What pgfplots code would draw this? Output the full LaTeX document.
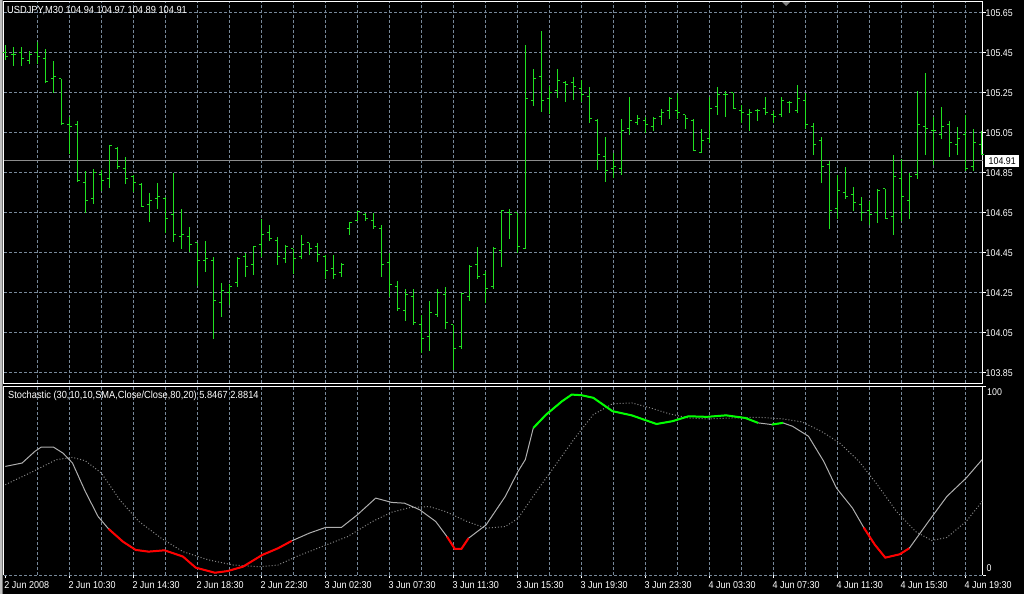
\documentclass[border=0pt]{standalone}
\usepackage{fontspec}
\setmainfont{Liberation Sans}[FakeStretch=0.9]
\usepackage{pgfplots}
\usepackage{pgfplotstable}
\pgfplotsset{compat=1.18}

\definecolor{gridc}{RGB}{119,136,153}
\definecolor{barc}{RGB}{32,224,32}
\definecolor{kc}{RGB}{175,175,175}
\definecolor{dc}{RGB}{135,135,135}
\definecolor{pricec}{RGB}{140,140,140}

% open / close ticks of the OHLC bars
\pgfdeclareplotmark{otick}{\pgfpathmoveto{\pgfqpoint{-2.5pt}{0pt}}\pgfpathlineto{\pgfqpoint{0pt}{0pt}}\pgfusepathqstroke}
\pgfdeclareplotmark{ctick}{\pgfpathmoveto{\pgfqpoint{0pt}{0pt}}\pgfpathlineto{\pgfqpoint{2.5pt}{0pt}}\pgfusepathqstroke}

\pgfplotstableread{
i o h l c
0 105.45 105.49 105.415 105.43
1 105.44 105.48 105.385 105.44
2 105.45 105.48 105.385 105.42
3 105.41 105.46 105.395 105.44
4 105.45 105.505 105.395 105.43
5 105.42 105.47 105.30 105.305
6 105.32 105.41 105.25 105.33
7 105.32 105.32 105.09 105.095
8 105.09 105.13 104.945 105.08
9 105.09 105.11 104.805 104.81
10 104.80 104.86 104.65 104.71
11 104.72 104.87 104.695 104.85
12 104.84 104.865 104.76 104.81
13 104.82 104.99 104.775 104.985
14 104.97 104.98 104.87 104.88
15 104.87 104.93 104.795 104.82
16 104.83 104.84 104.755 104.80
17 104.79 104.80 104.68 104.68
18 104.69 104.75 104.605 104.71
19 104.72 104.80 104.67 104.73
20 104.72 104.73 104.55 104.62
21 104.64 104.85 104.505 104.54
22 104.53 104.67 104.47 104.54
23 104.53 104.58 104.455 104.49
24 104.50 104.50 104.285 104.41
25 104.41 104.51 104.355 104.42
26 104.41 104.43 104.02 104.21
27 104.20 104.30 104.13 104.26
28 104.25 104.295 104.19 104.28
29 104.30 104.43 104.28 104.42
30 104.43 104.45 104.33 104.38
31 104.39 104.48 104.34 104.48
32 104.49 104.62 104.43 104.54
33 104.55 104.59 104.51 104.52
34 104.51 104.53 104.39 104.43
35 104.42 104.49 104.40 104.48
36 104.47 104.47 104.345 104.42
37 104.43 104.54 104.42 104.49
38 104.50 104.50 104.44 104.47
39 104.48 104.50 104.405 104.44
40 104.43 104.44 104.32 104.36
41 104.37 104.44 104.32 104.34
42 104.35 104.40 104.33 104.39
43 104.57 104.60 104.54 104.60
44 104.61 104.66 104.61 104.655
45 104.64 104.65 104.61 104.62
46 104.61 104.65 104.57 104.58
47 104.57 104.59 104.33 104.39
48 104.40 104.45 104.23 104.29
49 104.28 104.31 104.16 104.17
50 104.16 104.27 104.11 104.24
51 104.23 104.27 104.09 104.10
52 104.09 104.14 103.95 104.02
53 104.03 104.21 103.96 104.15
54 104.14 104.27 104.13 104.25
55 104.24 104.28 104.07 104.10
56 104.09 104.09 103.865 103.97
57 103.98 104.25 103.97 104.245
58 104.23 104.39 104.21 104.38
59 104.39 104.48 104.32 104.33
60 104.34 104.36 104.20 104.27
61 104.28 104.48 104.27 104.47
62 104.46 104.66 104.38 104.66
63 104.65 104.67 104.52 104.64
64 104.65 104.65 104.45 104.48
65 104.47 105.49 104.47 105.22
66 105.21 105.37 105.185 105.32
67 105.33 105.56 105.155 105.21
68 105.22 105.285 105.145 105.25
69 105.26 105.37 105.225 105.31
70 105.30 105.31 105.205 105.29
71 105.30 105.33 105.215 105.28
72 105.27 105.315 105.205 105.24
73 105.23 105.28 105.10 105.12
74 105.11 105.12 104.865 104.94
75 104.93 105.03 104.805 104.86
76 104.87 104.95 104.825 104.88
77 104.87 105.12 104.84 105.06
78 105.07 105.23 105.04 105.11
79 105.10 105.14 105.09 105.12
80 105.11 105.13 105.05 105.09
81 105.08 105.13 105.06 105.12
82 105.13 105.17 105.09 105.15
83 105.16 105.23 105.12 105.22
84 105.16 105.25 105.12 105.15
85 105.14 105.14 105.07 105.12
86 105.11 105.12 104.96 104.96
87 104.95 105.07 104.95 105.01
88 105.02 105.23 105.00 105.17
89 105.18 105.28 105.14 105.24
90 105.24 105.26 105.13 105.24
91 105.25 105.25 105.17 105.17
92 105.16 105.19 105.10 105.15
93 105.14 105.17 105.06 105.15
94 105.16 105.17 105.11 105.16
95 105.17 105.23 105.14 105.15
96 105.14 105.16 105.10 105.13
97 105.14 105.23 105.13 105.21
98 105.20 105.21 105.15 105.20
99 105.16 105.29 105.15 105.22
100 105.21 105.25 105.07 105.09
101 105.08 105.10 104.94 104.99
102 105.01 105.03 104.80 104.88
103 104.89 104.91 104.57 104.66
104 104.67 104.84 104.62 104.76
105 104.75 104.88 104.72 104.73
106 104.74 104.78 104.66 104.70
107 104.69 104.73 104.61 104.65
108 104.66 104.71 104.59 104.64
109 104.65 104.77 104.60 104.76
110 104.77 104.77 104.62 104.62
111 104.63 104.94 104.54 104.83
112 104.82 104.92 104.61 104.73
113 104.71 104.85 104.62 104.83
114 104.84 105.26 104.82 105.09
115 105.08 105.35 104.94 105.07
116 105.06 105.13 104.89 105.06
117 105.04 105.18 105.02 105.08
118 105.09 105.11 104.93 105.00
119 104.99 105.08 104.94 105.02
120 105.04 105.14 104.86 104.87
121 104.88 105.07 104.86 105.00
122 104.99 105.06 104.94 104.94
}\bars

\pgfplotstableread{
i k
0 57.6
2.1 59.4
3.7 65.6
4.5 67.9
6.0 67.9
7.2 64.7
8.4 59.4
10.0 44.3
11.6 31.0
12.9 24.5
14.7 17.7
16.3 13.3
17.9 12.4
19.9 13.1
22.2 9.8
23.8 3.9
26.2 1.2
27.8 2.1
29.7 4.4
32.1 10.6
34.1 14.2
35.8 18.1
38.0 22.2
40.0 25.2
42.0 25.2
44.0 31.9
46.3 40.8
48.3 38.5
49.9 38.1
51.8 34.6
53.8 28.4
55.2 20.4
56.2 13.8
57.0 13.8
57.9 19.5
60.1 26.6
62.5 41.7
64.1 55.0
65.0 61.2
66.0 78.0
67.6 85.1
69.6 92.2
70.8 95.7
72.0 95.4
73.5 94.0
75.9 86.9
78.3 84.7
81.4 80.1
83.4 81.6
85.4 84.2
87.7 83.9
90.1 84.7
92.5 83.3
94.1 80.7
95.8 79.8
97.2 80.7
98.4 78.9
100.4 73.6
102.3 60.3
103.9 46.1
105.9 35.5
107.3 25.2
108.7 16.0
110.0 9.2
111.8 11.0
113.0 14.2
115.4 28.4
117.7 41.7
120.1 51.4
122.1 61.2
}\stochK

\pgfplotstableread{
i d
0 47.9
3.3 54.6
6.4 61.2
8.4 62.4
10.0 60.6
12.0 54.1
14.3 39.9
16.7 28.4
19.5 19.5
22.2 12.4
25.4 8.0
28.5 5.3
31.7 4.4
34.1 5.3
36.4 9.8
39.6 15.1
42.8 20.4
45.9 28.4
48.3 33.3
50.6 35.8
53.0 36.3
55.0 33.7
57.7 28.4
60.1 24.8
62.5 25.7
64.1 30.1
66.4 44.3
68.8 58.5
71.2 72.7
73.5 85.1
75.9 90.8
78.3 91.3
80.6 88.7
83.0 85.5
85.4 83.3
87.7 82.8
90.9 83.3
94.1 83.7
97.2 82.8
99.6 81.2
102.0 76.2
104.3 70.0
106.7 60.3
109.0 47.9
111.4 33.7
113.8 23.0
115.8 18.3
117.7 19.9
120.1 28.4
122.1 39.0
}\stochD

\begin{document}
\begin{tikzpicture}[font=\fontsize{10.3}{12}\selectfont]
\useasboundingbox (0,0) rectangle (1024pt,594pt);
\fill[black] (0,0) rectangle (1024pt,594pt);
\fill[black!25] (0,0) rectangle (2pt,594pt);
\fill[black!55] (2pt,0) rectangle (3pt,594pt);
\fill[gray] (782pt,592pt) -- (790pt,592pt) -- (786pt,588pt) -- cycle;

% price panel
\begin{axis}[
    at={(4pt,210.5pt)}, anchor=south west,
    width=978.5pt, height=381.5pt, scale only axis,
    xmin=-0.1625, xmax=122.15, ymin=103.7975, ymax=105.705,
    axis line style={white, line width=1pt},
    xtick={4,8,...,120}, xticklabels={}, xtick style={draw=none},
    ytick={103.85,104.05,104.25,104.45,104.65,104.85,105.05,105.25,105.45,105.65},
    yticklabels={103.85,104.05,104.25,104.45,104.65,104.85,105.05,105.25,105.45,105.65},
    ytick pos=right, yticklabel pos=right,
    tick align=outside, major tick length=3pt,
    ytick style={white, line width=1pt},
    yticklabel style={text=white, anchor=west, inner sep=0pt, xshift=0pt,
        font=\fontsize{9.8}{11}\selectfont},
    grid=major,
    major grid style={gridc, dash pattern=on 3pt off 2pt, line width=1pt},
    clip=false,
]
\addplot[pricec, line width=1pt] coordinates {(-0.1625,104.91) (122.15,104.91)};
\addplot[draw=none, mark=none, error bars/.cd, y dir=plus, y explicit,
    error mark=none, error bar style={draw=barc, solid, line width=1pt}]
    table[x=i, y=l, y error expr=\thisrow{h}-\thisrow{l}] {\bars};
\addplot[barc, only marks, mark=otick, mark options={line width=1pt}] table[x=i, y=o] {\bars};
\addplot[barc, only marks, mark=ctick, mark options={line width=1pt}] table[x=i, y=c] {\bars};
\node[fill=white, text=black, anchor=west, inner xsep=3.5pt, inner ysep=0pt,
    minimum height=12pt, font=\fontsize{9.8}{11}\selectfont]
    at ([xshift=2.5pt]axis cs:122.15,104.91) {104.91};
\end{axis}
\node[anchor=base west, text=white, inner sep=0pt] at (7pt,580.5pt)
    {USDJPY,M30 104.94 104.97 104.89 104.91};

% stochastic panel
\begin{axis}[
    at={(4pt,19pt)}, anchor=south west,
    width=978.5pt, height=188.5pt, scale only axis,
    xmin=-0.1625, xmax=122.15, ymin=0, ymax=100,
    axis x line*=bottom, axis y line*=right,
    x axis line style={-, draw=gridc, dash pattern=on 3pt off 2pt, line width=1pt},
    y axis line style={-, draw=white, line width=1pt},
    xtick={0,8,...,120},
    xticklabels={2 Jun 2008,2 Jun 10:30,2 Jun 14:30,2 Jun 18:30,2 Jun 22:30,
        3 Jun 02:30,3 Jun 07:30,3 Jun 11:30,3 Jun 15:30,3 Jun 19:30,
        3 Jun 23:30,4 Jun 03:30,4 Jun 07:30,4 Jun 11:30,4 Jun 15:30,4 Jun 19:30},
    xtick pos=left, xticklabel pos=left,
    xticklabel style={text=white, anchor=north west, inner sep=0pt, xshift=-1pt,
        yshift=-3.5pt, font=\fontsize{10}{12}\selectfont},
    tick align=outside, major tick length=3pt,
    xtick style={white, line width=1pt},
    ytick={0,100}, yticklabels={}, ytick pos=right,
    ytick style={white, line width=1pt},
    extra x ticks={4,8,...,120}, extra x tick labels={},
    extra x tick style={grid=major, major tick length=0pt},
    major grid style={gridc, dash pattern=on 3pt off 2pt, line width=1pt},
    clip=false,
]
\addplot[dc, line width=1pt, dash pattern=on 1pt off 2pt] table[x=i, y=d] {\stochD};
\addplot[kc, line width=1pt] table[x=i, y=k] {\stochK};
\addplot[red, line width=2pt, restrict x to domain=12.8:35.9] table[x=i, y=k] {\stochK};
\addplot[red, line width=2pt, restrict x to domain=55.1:58.0] table[x=i, y=k] {\stochK};
\addplot[red, line width=2pt, restrict x to domain=107.2:113.1] table[x=i, y=k] {\stochK};
\addplot[green, line width=2pt, restrict x to domain=65.9:94.2] table[x=i, y=k] {\stochK};
\addplot[green, line width=2pt, restrict x to domain=95.7:97.3] table[x=i, y=k] {\stochK};
\draw[white, line width=1pt] (rel axis cs:0,0) -- (rel axis cs:0,1) -- (rel axis cs:1,1);
\node[anchor=north west, text=white, inner sep=0pt, font=\fontsize{9.8}{11}\selectfont]
    at ([xshift=4.5pt,yshift=-1.8pt]rel axis cs:1,1) {100};
\node[anchor=south west, text=white, inner sep=0pt, font=\fontsize{9.8}{11}\selectfont]
    at ([xshift=4pt,yshift=3.3pt]rel axis cs:1,0) {0};
\end{axis}
\node[anchor=base west, text=white, inner sep=0pt] at (8pt,195pt)
    {Stochastic (30,10,10,SMA,Close/Close,80,20) 5.8467 2.8814};
\end{tikzpicture}
\end{document}
